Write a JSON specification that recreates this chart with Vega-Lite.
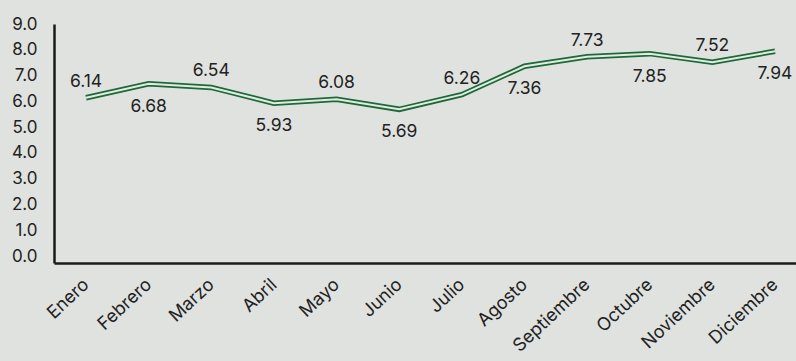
{
  "$schema": "https://vega.github.io/schema/vega-lite/v6.json",
  "autosize": {"type": "none"},
  "width": 742,
  "height": 239,
  "padding": {"left": 54, "top": 24, "right": 0, "bottom": 98},
  "background": "#e0e2e0",
  "config": {
    "view": {"stroke": null},
    "font": "Inter",
    "axis": {"labelFont": "Inter", "labelColor": "#222222", "grid": false}
  },
  "data": {
    "values": [
      {"mes": "Enero", "valor": 6.14},
      {"mes": "Febrero", "valor": 6.68},
      {"mes": "Marzo", "valor": 6.54},
      {"mes": "Abril", "valor": 5.93},
      {"mes": "Mayo", "valor": 6.08},
      {"mes": "Junio", "valor": 5.69},
      {"mes": "Julio", "valor": 6.26},
      {"mes": "Agosto", "valor": 7.36},
      {"mes": "Septiembre", "valor": 7.73},
      {"mes": "Octubre", "valor": 7.85},
      {"mes": "Noviembre", "valor": 7.52},
      {"mes": "Diciembre", "valor": 7.94}
    ]
  },
  "transform": [
    {"window": [{"op": "row_number", "as": "idx"}]}
  ],
  "encoding": {
    "x": {
      "field": "mes", "type": "ordinal", "sort": null,
      "scale": {"type": "point", "padding": 0.423, "align": 0.604},
      "axis": {
        "title": null, "labelAngle": -43, "labelFontSize": 18, "labelAlign": "right", "labelBaseline": "middle",
        "ticks": false, "tickSize": 0, "labelPadding": 19,
        "domainColor": "#1a1a1a", "domainWidth": 2.5
      }
    },
    "y": {
      "field": "valor", "type": "quantitative",
      "scale": {"domain": [-0.27, 9], "nice": false, "zero": false},
      "axis": {
        "title": null, "values": [0, 1, 2, 3, 4, 5, 6, 7, 8, 9], "format": ".1f",
        "labelFontSize": 17, "ticks": false, "tickSize": 0, "labelPadding": 17,
        "domainColor": "#1a1a1a", "domainWidth": 2.5
      }
    }
  },
  "layer": [
    {"mark": {"type": "line", "color": "#1a6b36", "strokeWidth": 5.5, "strokeJoin": "miter"}},
    {"mark": {"type": "line", "color": "#e6e8e6", "strokeWidth": 2, "strokeJoin": "miter"}},
    {
      "transform": [{"filter": "datum.idx % 2 == 1"}],
      "mark": {"type": "text", "fontSize": 17.5, "color": "#222222", "dy": -16, "baseline": "middle"},
      "encoding": {"text": {"field": "valor", "type": "quantitative", "format": ".2f"}}
    },
    {
      "transform": [{"filter": "datum.idx % 2 == 0"}],
      "mark": {"type": "text", "fontSize": 17.5, "color": "#222222", "dy": 23, "baseline": "middle"},
      "encoding": {"text": {"field": "valor", "type": "quantitative", "format": ".2f"}}
    }
  ]
}
